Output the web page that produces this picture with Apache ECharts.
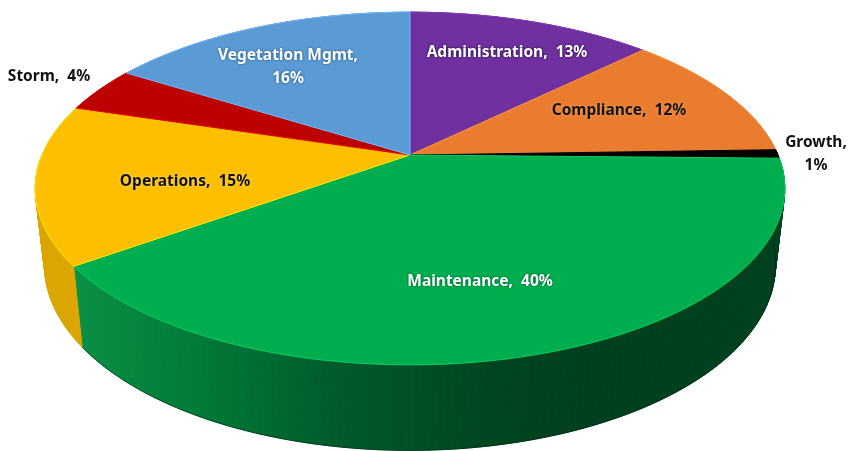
<!DOCTYPE html>
<html>
<head>
<meta charset="utf-8">
<style>
  html, body { margin: 0; padding: 0; background: #fff; }
  #main { width: 849px; height: 451px; }
</style>
<script src="https://cdn.jsdelivr.net/npm/echarts@6/dist/echarts.min.js"></script>
</head>
<body>
<div id="main"></div>
<script>
// clockwise from 12 o'clock
const sliceNames = ['Administration', 'Compliance', 'Growth', 'Maintenance', 'Operations', 'Storm', 'Vegetation Mgmt'];
const sliceValues = [12.7, 11.8, 0.8, 39.8, 14.6, 4.2, 16.1];
const sliceColors = ['#7030a0', '#ea7c30', '#000000', '#00ae50', '#fdbf00', '#bd0000', '#5b9bd5'];
const wallColors = ['#3f1a5c', '#8a4a1c', '#000000', null, '#dba600', '#7a0000', '#33608a'];

// label layout: centre x, centre y, text colour, shadow colour
const labelStyle = [
  [507, 53, '#ffffff', '#1d0a33'],
  [619, 111, '#111111', '#f7a55f'],
  [816, 154, '#111111', null],
  [480, 282, '#ffffff', '#00552a'],
  [185, 182, '#111111', '#ffe27a'],
  [49, 77, '#111111', null],
  [288, 67, '#ffffff', '#23507d']
];
const wrapped = ['Growth', 'Vegetation Mgmt'];

const total = sliceValues.reduce((a, b) => a + b, 0);
let running = 0;
const sliceData = sliceValues.map((v, i) => {
  const row = [running, running + v, i];
  running += v;
  return row;
});

// side of the green slice darkens from left to right, then stays flat
const greenSide = new echarts.graphic.LinearGradient(75, 0, 580, 0, [
  { offset: 0, color: '#0a8f45' },
  { offset: 0.25, color: '#007a38' },
  { offset: 0.5, color: '#005c2b' },
  { offset: 0.85, color: '#00441f' },
  { offset: 1, color: '#00401e' }
], true);

// tilted disc: the pie centre sits above the centre of the rim ellipse
const cx = 410, cy = 155, a = 368, b = 170, c = -0.19;
function topPoint(val) {
  const t = echarts.number.linearMap(val, [0, total], [0, Math.PI * 2]);
  const u = Math.sin(t), v = -Math.cos(t), d = 1 + c * v;
  return [cx + a * u / d, cy + b * v / d];
}
function lowPoint(val) {
  const p = topPoint(val);
  return [cx + (p[0] - cx) * 0.975, 230 + (p[1] - cy) * 1.05];
}
function rim(from, to, fn) {
  const n = Math.max(2, Math.ceil((to - from) / total * 360));
  const pts = [];
  for (let k = 0; k <= n; k++) pts.push(fn(from + (to - from) * k / n));
  return pts;
}

function renderWall(params, api) {
  const from = api.value(0), to = api.value(1), i = api.value(2);
  const n = Math.max(2, Math.ceil((to - from) / total * 360));
  const col = wallColors[i] || greenSide;
  const children = [];
  for (let k = 0; k < n; k++) {
    const v0 = from + (to - from) * k / n, v1 = from + (to - from) * (k + 1) / n;
    children.push({
      type: 'polygon',
      shape: { points: [topPoint(v0), topPoint(v1), lowPoint(v1), lowPoint(v0)] },
      style: { fill: col, stroke: col, lineWidth: 1 }
    });
  }
  children.push({
    type: 'polyline',
    shape: { points: rim(from, to, lowPoint) },
    style: { fill: null, stroke: i === 3 ? '#00200f' : wallColors[i], lineWidth: 0.8, opacity: 0.7 }
  });
  return { type: 'group', children: children };
}

function renderTop(params, api) {
  const from = api.value(0), to = api.value(1), i = api.value(2);
  const pts = [[cx, cy]].concat(rim(from, to, topPoint));
  const col = sliceColors[i];
  const l = labelStyle[i];
  const name = sliceNames[i];
  const pct = Math.round(sliceValues[i] / total * 100);
  const text = name + (wrapped.indexOf(name) >= 0 ? ',\n' : ',  ') + pct + '%';
  const textStyle = {
    text: text,
    x: l[0],
    y: l[1],
    align: 'center',
    verticalAlign: 'middle',
    fill: l[2],
    font: '700 15.5px "Noto Sans"',
    lineHeight: 23
  };
  if (l[3]) {
    textStyle.textShadowColor = l[3];
    textStyle.textShadowBlur = 3;
  }
  return {
    type: 'group',
    children: [
      {
        type: 'polygon',
        shape: { points: pts },
        style: { fill: col, stroke: i === 2 ? col : echarts.color.lift(col, -0.2), lineWidth: 1 }
      },
      { type: 'text', z2: 10, style: textStyle }
    ]
  };
}

const chart = echarts.init(document.getElementById('main'), null, { renderer: 'canvas' });
chart.setOption({
  backgroundColor: '#ffffff',
  animation: false,
  series: [
    { type: 'custom', coordinateSystem: 'none', z: 1, silent: true, clip: false, data: sliceData, renderItem: renderWall },
    { type: 'custom', coordinateSystem: 'none', z: 2, silent: true, clip: false, data: sliceData, renderItem: renderTop }
  ]
});
</script>
</body>
</html>
